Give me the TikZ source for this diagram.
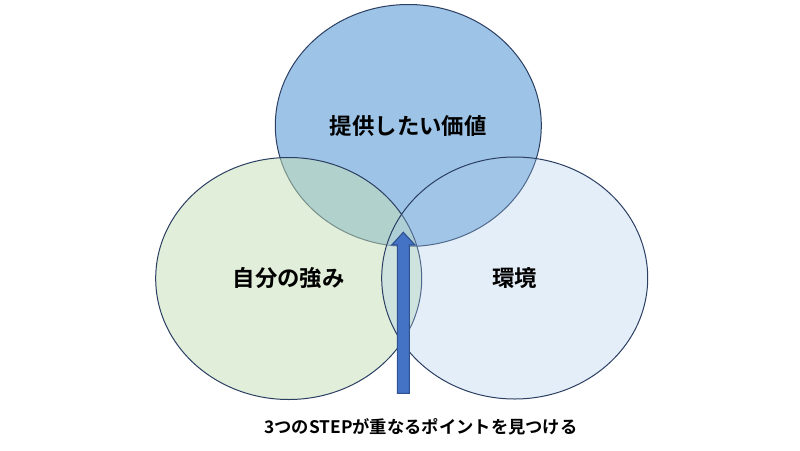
\documentclass[tikz,border=0pt]{standalone}
\usepackage{fontspec}
\newfontfamily\jpfont{Noto Sans CJK JP}[BoldFont={* Bold}]
\usetikzlibrary{shapes.geometric}
\definecolor{topfill}{HTML}{9DC3E6}
\definecolor{leftfill}{HTML}{C5DFB5}
\definecolor{rightfill}{HTML}{A8CAEB}
\definecolor{edgecol}{HTML}{2B3F63}
\definecolor{arrowfill}{HTML}{4472C4}
\definecolor{arrowedge}{HTML}{2F528F}
\tikzset{
  venn/.style={ellipse, draw=edgecol, line width=1pt, minimum width=266pt,
    minimum height=242pt, inner sep=0pt, text opacity=1,
    font=\jpfont\bfseries\fontsize{22.4}{26}\selectfont, text=black},
  arrowshape/.style={fill=arrowfill, draw=arrowedge, line width=1.1pt, line join=miter},
  caption/.style={font=\jpfont\bfseries\fontsize{17.3}{20}\selectfont, text=black, inner sep=0pt}
}
\begin{document}
\begin{tikzpicture}[x=1pt,y=-1pt]
\useasboundingbox (0,0) rectangle (800,450);
\fill[white] (0,0) rectangle (800,450);
\node[venn, fill=topfill] (top) at (408.3,125.5) {提供したい価値};
\node[venn, fill=leftfill, fill opacity=0.5] (left) at (288.7,278.5) {自分の強み};
\node[venn, fill=rightfill, fill opacity=0.3] (right) at (514.7,278) {環境};
\draw[arrowshape] (397.3,393.3) -- (397.3,245) -- (391.7,245) -- (403.3,232.3)
  -- (415,245) -- (409.3,245) -- (409.3,393.3) -- cycle;
\node[caption] (cap) at (421,427) {3つのSTEPが重なるポイントを見つける};
\end{tikzpicture}
\end{document}
